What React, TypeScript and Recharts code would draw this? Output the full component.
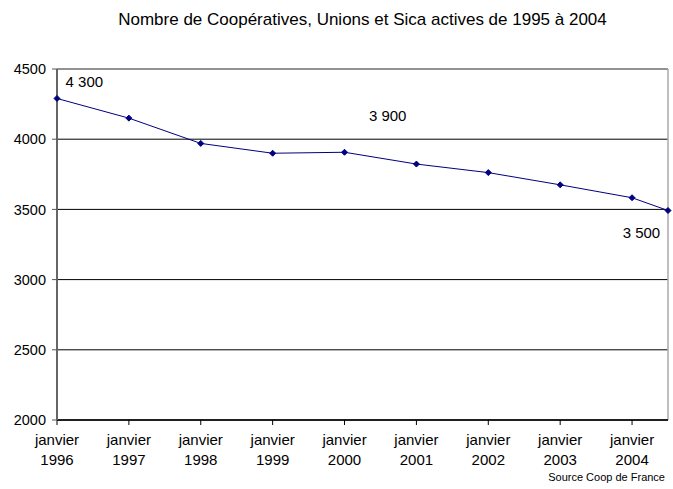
import React from "react";
import {
  LineChart,
  Line,
  XAxis,
  YAxis,
  CartesianGrid,
  ReferenceLine,
  ReferenceDot,
} from "recharts";

// Years on the x axis (the last point sits half a year after janvier 2004)
const years = [1996, 1997, 1998, 1999, 2000, 2001, 2002, 2003, 2004, 2004.5];
const cooperatives = [4290, 4150, 3970, 3900, 3907, 3823, 3762, 3675, 3583, 3492];

const yearTicks = [1996, 1997, 1998, 1999, 2000, 2001, 2002, 2003, 2004];
const valueTicks = [2000, 2500, 3000, 3500, 4000, 4500];

// Free text annotations placed in data coordinates
const noteLabels = ["4 300", "3 900", "3 500"];
const noteX = [1996.38, 2000.6, 2004.13];
const noteY = [4407, 4165, 3332];

const data = years.map((year, i) => ({ year, value: cooperatives[i] }));
const notes = noteLabels.map((text, i) => ({ text, x: noteX[i], y: noteY[i] }));

const FONT = "'Liberation Sans', Arial, sans-serif";
const NAVY = "#000080";

const Diamond = (props: any) => {
  const { cx, cy } = props;
  if (cx == null || cy == null) return null;
  const s = 3;
  return (
    <polygon
      points={`${cx},${cy - s} ${cx + s},${cy} ${cx},${cy + s} ${cx - s},${cy}`}
      fill={NAVY}
      stroke={NAVY}
    />
  );
};

const YearTick = (props: any) => {
  const { x, y, payload } = props;
  return (
    <g transform={`translate(${x},${y})`}>
      <text x={0} y={18} textAnchor="middle" fontSize={15} fontFamily={FONT} fill="#000">
        janvier
      </text>
      <text x={0} y={38} textAnchor="middle" fontSize={15} fontFamily={FONT} fill="#000">
        {payload.value}
      </text>
    </g>
  );
};

export default function App() {
  return (
    <div style={{ position: "absolute", top: 0, left: 0, width: 673, height: 489, background: "#fff" }}>
      <div
        style={{
          position: "absolute",
          top: 10,
          left: 0,
          width: 725,
          textAlign: "center",
          fontFamily: FONT,
          fontSize: 17,
          lineHeight: "20px",
        }}
      >
        Nombre de Coopératives, Unions et Sica actives de 1995 à 2004
      </div>
      <LineChart
        width={673}
        height={489}
        data={data}
        margin={{ top: 69, right: 5, bottom: 0, left: 0 }}
      >
        <CartesianGrid vertical={false} stroke="#000" strokeWidth={1} />
        <ReferenceLine y={4500} stroke="#999" strokeWidth={1.5} />
        <ReferenceLine x={2004.5} stroke="#aaa" strokeWidth={1.5} />
        <XAxis
          dataKey="year"
          type="number"
          domain={[1996, 2004.5]}
          ticks={yearTicks}
          interval={0}
          height={69}
          tickSize={5}
          tick={<YearTick />}
          stroke="#000"
          axisLine={{ stroke: "#000", strokeWidth: 1.5 }}
        />
        <YAxis
          type="number"
          domain={[2000, 4500]}
          ticks={valueTicks}
          width={57}
          tickSize={5}
          tickMargin={6}
          stroke="#555"
          axisLine={{ stroke: "#666", strokeWidth: 2 }}
          tick={{ fill: "#000", fontSize: 14.5, fontFamily: FONT }}
        />
        {notes.map((n) => (
          <ReferenceDot
            key={n.text}
            x={n.x}
            y={n.y}
            r={0}
            fill="none"
            stroke="none"
            label={{ value: n.text, position: "center", fontSize: 15, fontFamily: FONT, fill: "#000" }}
          />
        ))}
        <Line
          type="linear"
          dataKey="value"
          stroke={NAVY}
          strokeWidth={1}
          dot={<Diamond />}
          activeDot={false}
          isAnimationActive={false}
        />
      </LineChart>
      <div
        style={{
          position: "absolute",
          top: 471,
          right: 8,
          fontFamily: FONT,
          fontSize: 11,
        }}
      >
        Source Coop de France
      </div>
    </div>
  );
}
